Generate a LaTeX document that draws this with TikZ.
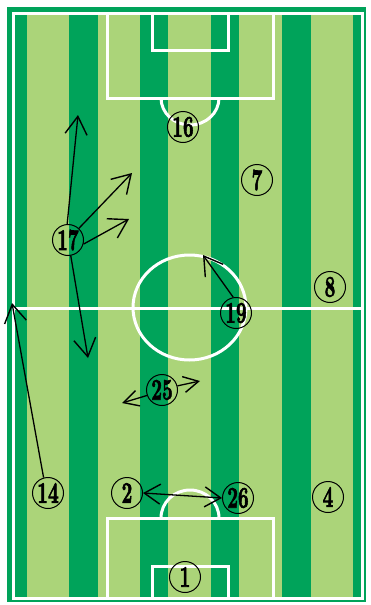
\documentclass[tikz,border=0pt]{standalone}
\usepackage{fontspec}
\usetikzlibrary{arrows.meta}
\newfontfamily\numfont{lmroman10-bold.otf}[FakeBold=2.5]
\definecolor{pitchdark}{RGB}{0,163,90}
\definecolor{pitchlight}{RGB}{171,212,121}
\newcommand\pnum[1]{\scalebox{0.62}[1]{\fontsize{30}{30}\numfont #1}}
\begin{document}
\begin{tikzpicture}[x=1pt,y=-1pt,
  fieldline/.style={draw=white,line width=3pt},
  player/.style={circle,draw=black,line width=1pt,minimum size=31pt,inner sep=0pt},
  run/.style={draw=black,line width=1.3pt,-{Straight Barb[length=18pt,width=22pt,line width=1.4pt]}},
  shortrun/.style={draw=black,line width=1.3pt,-{Straight Barb[length=15pt,width=16pt,line width=1.4pt]}},
  swap/.style={draw=black,line width=1.3pt,{Straight Barb[length=16pt,width=20pt,line width=1.4pt]}-{Straight Barb[length=16pt,width=20pt,line width=1.4pt]}}]
\useasboundingbox (0,0) rectangle (370,605);
\fill[white] (0,0) rectangle (370,605);
% border and field
\fill[pitchdark] (7,7) rectangle (366,602);
\fill[pitchlight] (15,15) rectangle (361,597);
\foreach \a/\b in {15/27,69/98,140/168,211/239,282/311,353/361}
  \fill[pitchdark] (\a,15) rectangle (\b,597);
% lines
\draw[fieldline] (13.5,13.5) rectangle (362.5,598.5);
\draw[fieldline] (13.5,308) -- (362.5,308);
\draw[fieldline] (189.5,307.5) ellipse [x radius=56.5,y radius=52.5];
\draw[fieldline] (107,13.5) rectangle (273,98);
\draw[fieldline] (152,13.5) rectangle (228,50);
\draw[fieldline] (161,98) arc [start angle=180,end angle=0,x radius=29,y radius=27];
\draw[fieldline] (107,518) rectangle (273,598.5);
\draw[fieldline] (152,566) rectangle (228,598.5);
\draw[fieldline] (161,518) arc [start angle=180,end angle=360,x radius=29,y radius=28];
% players
\node[player] (p16) at (183,127) {\pnum{16}};
\node[player] (p7)  at (257,180) {\pnum{7}};
\node[player] (p17) at (68,240)  {\pnum{17}};
\node[player] (p8)  at (330,287) {\pnum{8}};
\node[player] (p19) at (236,313) {\pnum{19}};
\node[player] (p25) at (162,390) {\pnum{25}};
\node[player] (p14) at (48,493)  {\pnum{14}};
\node[player] (p2)  at (127,493) {\pnum{2}};
\node[player] (p26) at (238,498) {\pnum{26}};
\node[player] (p4)  at (328,497) {\pnum{4}};
\node[player] (p1)  at (185,577) {\pnum{1}};
% run targets
\coordinate (t17up) at (78,115);
\coordinate (t17ur) at (132,173);
\coordinate (t17r)  at (129,219);
\coordinate (t17d)  at (88,358);
\coordinate (t19)   at (203,255);
\coordinate (t25l)  at (122,403);
\coordinate (t25r)  at (200,381);
\coordinate (t14)   at (12,303);
% runs
\draw[run] (p17.93) -- (t17up);
\draw[run] (p17.47) -- (t17ur);
\draw[run] (p17.-15) -- (t17r);
\draw[run] (p17.-80) -- (t17d);
\draw[run] (p19.100) -- (t19);
\draw[shortrun] (p25.-160) -- (t25l);
\draw[shortrun] (p25.15) -- (t25r);
\draw[run] (p14.106) -- (t14);
\draw[swap] (p2.east) -- (p26.west);
\end{tikzpicture}
\end{document}
